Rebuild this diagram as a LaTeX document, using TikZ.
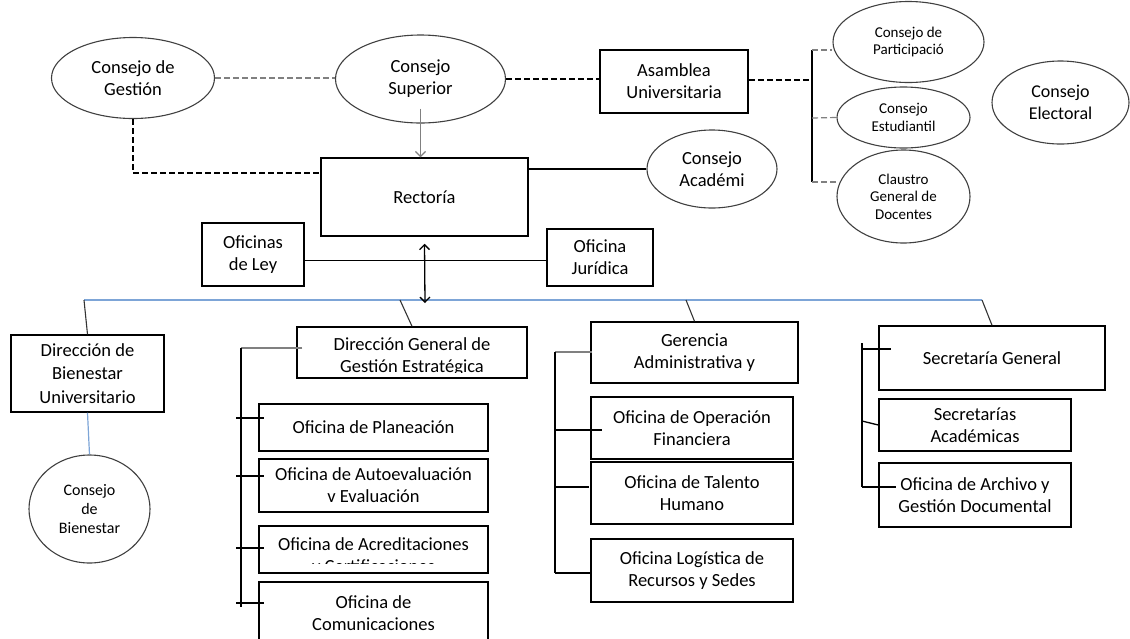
\documentclass[tikz,border=0pt]{standalone}
\usepackage{fontspec}
\setmainfont{Carlito}
\usepackage{xcolor}
\usetikzlibrary{arrows.meta,shapes.geometric,calc}

\definecolor{busblue}{RGB}{125,165,215}
\newcommand{\smallfont}{\fontsize{15}{17.5}\selectfont}

\tikzset{
  box/.style={draw, line width=1.5pt, align=center, inner sep=2pt},
  council/.style={draw=black!75, ellipse, line width=1.1pt, align=center, inner sep=0pt},
  link/.style={line width=1.3pt},
  softlink/.style={line width=1.2pt, gray},
  dashlink/.style={line width=1.2pt, dash pattern=on 6pt off 3pt},
  busline/.style={line width=1.2pt, busblue},
  droplink/.style={line width=1.1pt, black!80},
  barb/.style={line width=1.3pt, {Straight Barb[length=5pt, width=10pt]}-{Straight Barb[length=5pt, width=10pt]}}
}

\begin{document}
\begin{tikzpicture}[x=1pt, y=-1pt, every node/.style={font=\fontsize{18.5}{22}\selectfont}]
    \useasboundingbox (0,0) rectangle (1130,638);

    % councils on top
    \node[council, minimum width=163pt, minimum height=81pt] (ges) at (133,78) {Consejo de\\Gestión};
    \node[council, minimum width=170pt, minimum height=88pt] (sup) at (420.5,79) {Consejo\\Superior};
    \node[box, minimum width=148pt, minimum height=63pt] (asa) at (674,81.5) {Asamblea\\Universitaria};
    \node[council, minimum width=151pt, minimum height=81pt, font=\smallfont] (par) at (908.5,42) {Consejo de\\Participació};
    \node[council, minimum width=133pt, minimum height=61pt, font=\smallfont] (est) at (903.5,117.5) {Consejo\\Estudiantil};
    \node[council, minimum width=133pt, minimum height=93pt, font=\smallfont] (cla) at (903.5,196.5) {Claustro\\General de\\Docentes};
    \node[council, minimum width=137pt, minimum height=83pt, font=\fontsize{18}{22}\selectfont] (ele) at (1060.5,102.5) {Consejo\\Electoral};

    % rectoria and its neighbours
    \node[box, minimum width=207pt, minimum height=78pt] (rec) at (424.5,197) {Rectoría};
    \node[council, minimum width=130pt, minimum height=78pt] (aca) at (712,169) {Consejo\\Académi};
    \node[box, minimum width=102pt, minimum height=63pt] (ley) at (253,254.5) {Oficinas\\de Ley};
    \node[box, minimum width=106pt, minimum height=57pt] (jur) at (600,257.5) {Oficina\\Jurídica};

    % bienestar
    \node[box, minimum width=153pt, minimum height=77pt, font=\fontsize{18.5}{23.5}\selectfont] (bie) at (87.5,373.5) {Dirección de\\Bienestar\\Universitario};
    \node[council, minimum width=121pt, minimum height=108pt, font=\fontsize{16}{19}\selectfont] (cbi) at (89.5,509) {Consejo\\de\\Bienestar};

    % gestion estrategica
    \node[box, minimum width=230pt, minimum height=51pt] (dg) at (412,352.5) {};
    \node[box, minimum width=229pt, minimum height=47pt] (pla) at (373.5,427.5) {Oficina de Planeación};
    \node[box, minimum width=229pt, minimum height=53pt] (aut) at (373.5,485.5) {Oficina de Autoevaluación\\v Evaluación};
    \node[box, minimum width=229pt, minimum height=47pt] (acr) at (373.5,549.5) {};
    \node[box, minimum width=229pt, minimum height=63pt] (com) at (373.5,613.5) {Oficina de\\Comunicaciones};
    \begin{scope}
        \clip (dg.north west) rectangle ([yshift=6pt]dg.south east);
        \node[align=center] (dgtext) at ([yshift=-4pt]dg.center) {Dirección General de\\Gestión Estratégica};
    \end{scope}
    \begin{scope}
        \clip (acr.north west) rectangle ([yshift=10pt]acr.south east);
        \node[align=center] (acrtext) at ([yshift=-7.5pt]acr.center) {Oficina de Acreditaciones\\y Certificaciones};
    \end{scope}

    % gerencia
    \node[box, minimum width=207pt, minimum height=61pt] (ger) at (694.5,352.5) {Gerencia\\Administrativa y};
    \node[box, minimum width=202pt, minimum height=62pt] (ope) at (692,428) {Oficina de Operación\\Financiera};
    \node[box, minimum width=202pt, minimum height=62pt] (tal) at (692,493) {Oficina de Talento\\Humano};
    \node[box, minimum width=202pt, minimum height=63pt] (log) at (692,570.5) {Oficina Logística de\\Recursos y Sedes};

    % secretaria
    \node[box, minimum width=226pt, minimum height=64pt] (sg) at (992,358) {Secretaría General};
    \node[box, minimum width=192pt, minimum height=52pt] (sa) at (975,425) {Secretarías\\Académicas};
    \node[box, minimum width=192pt, minimum height=64pt] (arc) at (975,495) {Oficina de Archivo y\\Gestión Documental};

    % top links
    \draw[softlink, dashlink] (ges.east) -- (ges.east -| sup.west);
    \draw[dashlink] (sup.east) -- (sup.east -| asa.west);
    \coordinate (brk) at (812,80);
    \coordinate (brkT) at (812,50);
    \coordinate (brkM) at (812,118);
    \coordinate (brkB) at (812,182);
    \draw[dashlink] (brk -| asa.east) -- (brk);
    \draw[link] (brkT) -- (brkB);
    \draw[softlink, dashlink] (brkT) -- (brkT -| par.west);
    \draw[softlink, dashlink] (brkM) -- (est.west);
    \draw[softlink, dashlink] (brkB) -- (brkB -| cla.west);

    \draw[softlink, -{Straight Barb[length=5pt, width=10pt]}] ([yshift=15pt]sup.south) -- (sup.south |- rec.north);
    \draw[dashlink] (ges.south) |- ([yshift=24pt]rec.west);
    \draw[link] (aca.west) -- (aca.west -| rec.east);
    \draw[link] ([yshift=-6pt]ley.east) -- ([yshift=-6pt]ley.east -| jur.west);

    % bus
    \coordinate (busL) at (84,300);
    \coordinate (busR) at (982,300);
    \coordinate (arrB) at (425,303);
    \draw[busline] (busL) -- (busR);
    \draw[barb] ([yshift=-7pt]rec.south) -- (arrB);
    \coordinate (dgDrop) at (400,300);
    \coordinate (gerDrop) at (686,300);
    \draw[droplink] (busL) -- (bie.north);
    \draw[droplink] (dgDrop) -- (dg.north);
    \draw[droplink] (gerDrop) -- (ger.north);
    \draw[droplink] (busR) -- (sg.north);
    \draw[busline] (bie.south) -- (cbi.north);

    % bracket of gestion estrategica
    \coordinate (dgL) at (241,348);
    \coordinate (dgB) at (241,607);
    \draw[softlink] ($(dgL -| dg.west)+(6pt,0)$) -- (dgL);
    \draw[link] (dgL) -- (dgB);
    \foreach \b/\s in {pla/9.5pt, aut/9.5pt, acr/1.5pt, com/10.5pt}
        \draw[link] ($(\b.west -| dgL)+(-5pt,\s)$) -- ($(\b.west)+(6pt,\s)$);

    % bracket of gerencia
    \coordinate (gaL) at (555,352);
    \coordinate (gaB) at (555,573);
    \draw[softlink] ($(gaL -| ger.west)+(2pt,0)$) -- (gaL);
    \draw[link] (gaL) -- (gaB);
    \draw[link] ($(ope.west -| gaL)+(0,-2pt)$) -- ($(ope.west)+(12pt,-2pt)$);
    \draw[link] ($(tal.west -| gaL)+(0,6pt)$) -- ($(tal.west)+(-1pt,6pt)$);
    \draw[link] (gaB) -- (gaB -| log.west);

    % bracket of secretaria
    \coordinate (sgT) at (862,343);
    \coordinate (sgB) at (862,487);
    \draw[link] (sgT) -- (sgB);
    \draw[link] ($(sg.west -| sgT)+(0,9pt)$) -- ($(sg.west)+(13pt,9pt)$);
    \draw[link] ($(sa.west -| sgT)+(0,4pt)$) -- (sa.west);
    \draw[link] (sgB) -- ($(sgB -| arc.west)+(18pt,0)$);
\end{tikzpicture}
\end{document}
